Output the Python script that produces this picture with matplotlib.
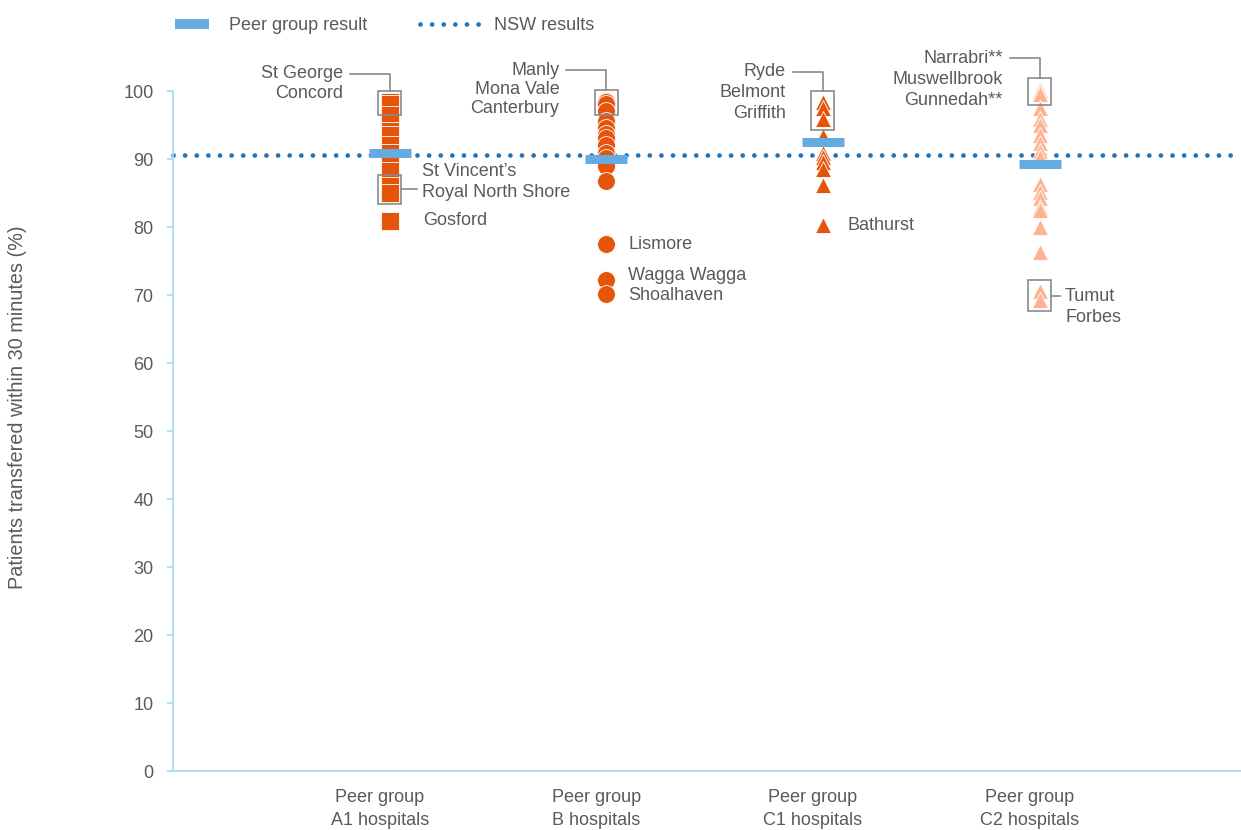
import numpy as np
import matplotlib.pyplot as plt
from matplotlib.lines import Line2D
from matplotlib.patches import Rectangle

plt.rcParams['font.family'] = ['Liberation Sans', 'DejaVu Sans']

# data
categories = ['Peer group\nA1 hospitals', 'Peer group\nB hospitals',
              'Peer group\nC1 hospitals', 'Peer group\nC2 hospitals']
a1_values = [98.4, 98.2, 96.6, 94.2, 93.6, 92.1, 91.0, 90.2, 89.4, 88.3, 86.1, 85.1, 81.0]
b_values = [98.6, 98.4, 98.2, 97.2, 95.6, 94.6, 93.8, 93.1, 92.1, 91.0, 90.2, 89.0, 86.8,
            77.5, 72.3, 70.2]
c1_values = [98.4, 97.6, 96.0, 93.4, 91.0, 90.4, 89.6, 88.6, 86.3, 80.3]
c2_values = [100.4, 100.0, 99.6, 97.6, 96.0, 95.0, 93.6, 92.4, 91.2, 90.4, 86.4, 85.2, 84.4,
             83.0, 82.5, 80.0, 76.4, 70.6, 69.3]
peer_result = [91.0, 90.0, 92.5, 89.3]
nsw_result = 90.7

# boxed hospitals at the top of each group
top_names = [['St George', 'Concord'], ['Manly', 'Mona Vale', 'Canterbury'],
             ['Ryde', 'Belmont', 'Griffith'], ['Narrabri**', 'Muswellbrook', 'Gunnedah**']]
top_values = [[98.4, 98.2], [98.6, 98.4, 98.2], [98.4, 97.6, 96.0], [100.4, 100.0, 99.6]]
# boxed hospitals labelled on the right
side_group = [0, 3]
side_names = [['St Vincent\u2019s', 'Royal North Shore'], ['Tumut', 'Forbes']]
side_values = [[86.1, 85.1], [70.6, 69.3]]
# single labelled hospitals
single_group = [0, 1, 1, 1, 2]
single_names = ['Gosford', 'Lismore', 'Wagga Wagga', 'Shoalhaven', 'Bathurst']
single_values = [81.0, 77.5, 72.3, 70.2, 80.3]
single_dy = [0, 0, 4, -2, 0]  # small pixel nudges so labels don't collide

dark = '#E4540B'
light = '#FDB38F'
bar_blue = '#64ABE2'
nsw_blue = '#1F74BB'
axis_blue = '#A8DCEF'
grey_txt = '#5a5a5a'
box_grey = '#8a8a8a'

fig = plt.figure(figsize=(12.41, 8.30), dpi=100)
ax = fig.add_axes([173/1241, 59/830, 1068/1241, 679.5/830])
ax.set_xlim(-1.0, 3.93)
ax.set_ylim(0, 100)

# NSW line
dotted = (0, (0.01, 2.45))
ax.axhline(nsw_result, color=nsw_blue, lw=3.4, linestyle=dotted,
           dash_capstyle='round', zorder=1, clip_on=False)

groups = [a1_values, b_values, c1_values, c2_values]
markers = ['s', 'o', '^', '^']
colors = [dark, dark, dark, light]
sizes = [155, 165, 130, 130]
for i, vals in enumerate(groups):
    v = np.sort(vals)[::-1]
    ax.scatter(np.full(len(v), i), v, marker=markers[i], s=sizes[i], color=colors[i],
               edgecolors='white', linewidths=0.6, zorder=2, clip_on=False)

# peer group results
xs = np.arange(len(categories))
ax.hlines(peer_result, xs - 0.097, xs + 0.097, color=bar_blue, lw=6.5, zorder=3)

bw = 0.106
pad = 1.6
fs = 13
px = 1 / 216.7  # data units per pixel along x

# top boxes with elbow leader lines
top_label_y = [102.6, 103.1, 102.9, 104.9]
line_len = [40, 40, 30, 30]
line_gap = [20, 19, 21, 21]
for i, (names, vals) in enumerate(zip(top_names, top_values)):
    lo, hi = min(vals) - pad, max(vals) + pad
    ax.add_patch(Rectangle((i - bw/2, lo), bw, hi - lo, fill=False, ec=box_grey,
                           lw=1.2, zorder=4, clip_on=False))
    ly = top_label_y[i]
    ax.plot([i - line_len[i]*px, i, i], [ly, ly, hi], color=box_grey, lw=1.2,
            zorder=4, clip_on=False)
    for k, name in enumerate(names):
        ax.annotate(name, xy=(i - line_len[i]*px, ly), xytext=(-7, -line_gap[i]*k),
                    textcoords='offset pixels', ha='right', va='center',
                    fontsize=fs, color=grey_txt, annotation_clip=False)

# right side boxes
side_first_y = [88.2, 69.8]
side_line = [16, 9]
for g, names, vals, fy, sl in zip(side_group, side_names, side_values, side_first_y, side_line):
    lo, hi = min(vals) - pad, max(vals) + pad
    ax.add_patch(Rectangle((g - bw/2, lo), bw, hi - lo, fill=False, ec=box_grey,
                           lw=1.2, zorder=4))
    mid = (lo + hi) / 2
    ax.plot([g + bw/2, g + bw/2 + sl*px], [mid, mid], color=box_grey, lw=1.2, zorder=4)
    for k, name in enumerate(names):
        ax.annotate(name, xy=(g + bw/2 + sl*px, fy), xytext=(5, -21*k),
                    textcoords='offset pixels', ha='left', va='center',
                    fontsize=fs, color=grey_txt)

single_dx = [33, 22, 25, 22]
for g, name, v, dy in zip(single_group, single_names, single_values, single_dy):
    ax.annotate(name, xy=(g, v), xytext=(single_dx[g], dy), textcoords='offset pixels',
                ha='left', va='center', fontsize=fs, color=grey_txt)

# axes styling
for s in ['top', 'right']:
    ax.spines[s].set_visible(False)
for s in ['left', 'bottom']:
    ax.spines[s].set_color(axis_blue)
    ax.spines[s].set_linewidth(1.3)
ax.set_yticks(np.arange(0, 101, 10))
ax.tick_params(axis='y', colors=axis_blue, length=4, width=1.3, pad=10,
               labelcolor=grey_txt, labelsize=fs)
ax.set_xticks(xs - 10*px)
ax.set_xticklabels(categories, fontsize=fs, color=grey_txt)
for t in ax.get_xticklabels():
    t.set_linespacing(1.45)
ax.tick_params(axis='x', length=0, pad=13)

fig.text(18/1241, 1 - 407/830, 'Patients transfered within 30 minutes (%)',
         rotation=90, ha='center', va='center', fontsize=14.3, color=grey_txt)

# legend
h1 = Line2D([], [], color=bar_blue, lw=7, solid_capstyle='butt')
h2 = Line2D([], [], color=nsw_blue, lw=3.4, linestyle=dotted, dash_capstyle='round')
leg1 = fig.legend([h1], ['Peer group result'], loc='center left',
                  bbox_to_anchor=(175/1241, 1 - 26/830), frameon=False, borderpad=0,
                  borderaxespad=0, handlelength=1.9, handletextpad=1.1, fontsize=fs,
                  labelcolor=grey_txt)
leg2 = fig.legend([h2], ['NSW results'], loc='center left',
                  bbox_to_anchor=(420/1241, 1 - 26/830), frameon=False, borderpad=0,
                  borderaxespad=0, handlelength=3.4, handletextpad=0.7, fontsize=fs,
                  labelcolor=grey_txt)

fig.savefig('out.png', dpi=100)
